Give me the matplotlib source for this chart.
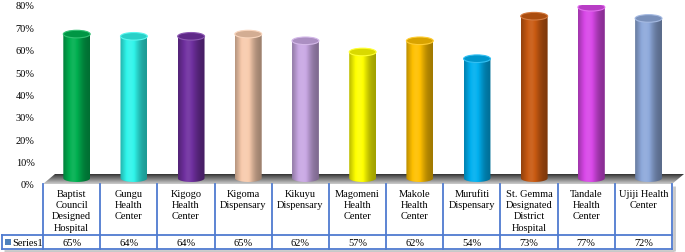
import numpy as np
import matplotlib.pyplot as plt
from matplotlib.patches import Ellipse, PathPatch, Polygon, Rectangle
from matplotlib.path import Path
from matplotlib.colors import to_rgb

# data
sites = ["Baptist\nCouncil\nDesigned\nHospital", "Gungu\nHealth\nCenter",
         "Kigogo\nHealth\nCenter", "Kigoma\nDispensary", "Kikuyu\nDispensary",
         "Magomeni\nHealth\nCenter", "Makole\nHealth\nCenter",
         "Murufiti\nDispensary", "St. Gemma\nDesignated\nDistrict\nHospital",
         "Tandale\nHealth\nCenter", "Ujiji Health\nCenter"]
values = [65, 64, 64, 65, 62, 57, 62, 54, 73, 77, 72]
bar_colors = ["#00B050", "#30F5EB", "#7030A0", "#F8CBAD", "#C9A8E4", "#FFFF00",
              "#FFC000", "#00B0F0", "#C95A12", "#D948E8", "#8EA9DB"]
yticks = [0, 10, 20, 30, 40, 50, 60, 70, 80]
series_name = "Series1"

plt.rcParams['font.family'] = ['Liberation Serif', 'DejaVu Serif']
fs = 7.5

W, H = 685, 253
fig = plt.figure(figsize=(W / 100, H / 100), dpi=100)

# pixel frame of the plot area
x_left, x_right = 43, 672
y_zero, y_top = 185, 6
row_mid, row_bot = 236, 250
line_col = "#4F7BD0"

# layout layer (floor + table) in pixel coordinates
lay = fig.add_axes([0, 0, 1, 1], zorder=0)
lay.set_xlim(0, W)
lay.set_ylim(H, 0)
lay.axis('off')

# floor with a grey gradient
floor = Polygon([(x_left, y_zero), (x_right, y_zero), (x_right + 12, y_zero - 10),
                 (x_left + 12, y_zero - 10)], closed=True, facecolor='none',
                edgecolor='none')
lay.add_patch(floor)
grad = np.linspace(0, 1, 50)[:, None]
img = lay.imshow(grad, cmap='Greys_r', vmin=-0.3, vmax=1.6,
                 extent=(x_left, x_right + 12, y_zero, y_zero - 10),
                 aspect='auto', origin='upper', interpolation='bilinear')
img.set_clip_path(floor)

# table
n = len(sites)
col_w = (x_right - x_left) / n
edges = [x_left + i * col_w for i in range(n + 1)]
shadow = dict(color="#c8c8c8", lw=2, solid_capstyle='butt')
lay.plot([x_right + 2, x_right + 2], [y_zero + 2, row_bot + 2], **shadow)
lay.plot([4, x_right + 2], [row_bot + 2, row_bot + 2], **shadow)
for x in edges:
    lay.plot([x, x], [y_zero, row_bot], color=line_col, lw=1.3)
lay.plot([2, 2], [row_mid, row_bot], color=line_col, lw=1.3)
for y in (row_mid, row_bot):
    lay.plot([2, x_right], [y, y], color=line_col, lw=1.3)

for i, (name, v) in enumerate(zip(sites, values)):
    cx = (edges[i] + edges[i + 1]) / 2
    lay.text(cx, y_zero + 5, name, ha='center', va='top', fontsize=fs,
             linespacing=1.32)
    lay.text(cx, (row_mid + row_bot) / 2 + 0.5, f"{v}%", ha='center',
             va='center', fontsize=fs)

lay.add_patch(Rectangle((5, 240), 6, 6, facecolor="#4F81BD", edgecolor='none'))
lay.text(12.5, (row_mid + row_bot) / 2 + 0.5, series_name, ha='left',
         va='center', fontsize=fs)

# chart layer
ax = fig.add_axes([x_left / W, 1 - y_zero / H, (x_right - x_left) / W,
                   (y_zero - y_top) / H], zorder=1)
ax.patch.set_alpha(0)
ax.set_xlim(-0.5, n - 0.5)
ax.set_ylim(0, 80)
ax.set_yticks(yticks)
ax.set_yticklabels([f"{t}%" for t in yticks])
ax.set_xticks([])
ax.tick_params(length=0, labelsize=fs, pad=6)
for s in ax.spines.values():
    s.set_visible(False)

# cylinders
bar_w, shift, ell_h, base, lift = 0.47, 0.09, 3.4, 2.6, 2.0
prof_x = np.linspace(0, 1, 60)
shade = 0.62 + 0.45 * np.exp(-((prof_x - 0.38) / 0.33) ** 2)
for i, (v, c) in enumerate(zip(values, bar_colors)):
    rgb = np.array(to_rgb(c))
    xc = i + shift
    x0, x1 = xc - bar_w / 2, xc + bar_w / 2
    yt = v + lift
    t = np.linspace(np.pi, 2 * np.pi, 40)
    verts = [(x0, yt), (x0, base)]
    verts += list(zip(xc + bar_w / 2 * np.cos(t), base + ell_h / 2 * np.sin(t)))
    verts += [(x1, yt), (x0, yt)]
    codes = [Path.MOVETO] + [Path.LINETO] * (len(verts) - 2) + [Path.CLOSEPOLY]
    body = PathPatch(Path(verts, codes), facecolor='none', edgecolor='none')
    ax.add_patch(body)
    cols = np.clip(rgb[None, :] * np.minimum(shade, 1)[:, None]
                   + (np.maximum(shade, 1) - 1)[:, None] * (1 - rgb[None, :]), 0, 1)
    im = ax.imshow(cols[None, :, :], extent=(x0, x1, base - ell_h, yt),
                   aspect='auto', interpolation='bilinear', zorder=2)
    im.set_clip_path(body)
    top = Ellipse((xc, yt), bar_w, ell_h, facecolor=rgb * 0.85,
                  edgecolor=np.clip(rgb * 0.8 + 0.2, 0, 1), lw=0.8, zorder=3)
    ax.add_patch(top)

ax.set_xlim(-0.5, n - 0.5)
ax.set_ylim(0, 80)

fig.savefig("out.png", dpi=100)
